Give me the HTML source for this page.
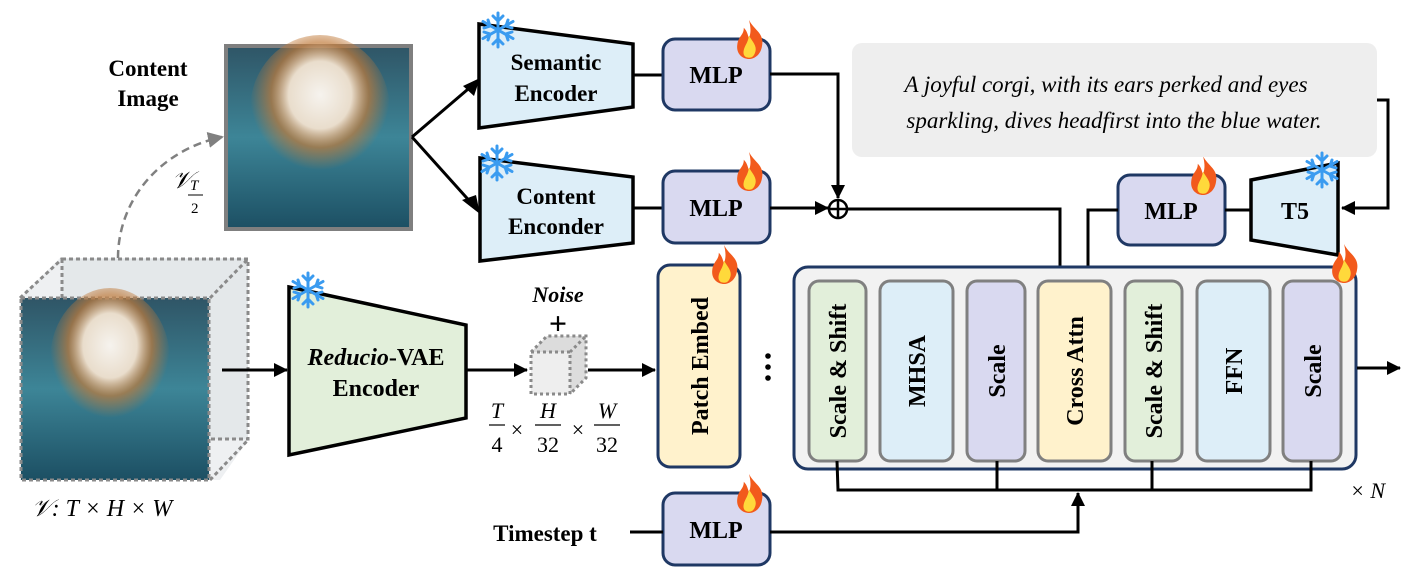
<!DOCTYPE html>
<html><head><meta charset="utf-8"><style>
html,body{margin:0;padding:0;background:#fff}
svg{display:block}
text{font-family:"Liberation Serif",serif;font-weight:bold;fill:#000}
.n{font-weight:normal}
</style></head><body>
<svg width="1412" height="575" viewBox="0 0 1412 575" xmlns="http://www.w3.org/2000/svg">
<defs>
<marker id="ah" markerWidth="14" markerHeight="14" refX="13" refY="7" orient="auto" markerUnits="userSpaceOnUse"><path d="M0,0 L14,7 L0,14 z" fill="#000"/></marker>
<marker id="ahg" markerWidth="16" markerHeight="16" refX="14" refY="8" orient="auto" markerUnits="userSpaceOnUse"><path d="M0,0 L16,8 L0,16 z" fill="#808080"/></marker>
<linearGradient id="water" x1="0" y1="0" x2="0" y2="1"><stop offset="0" stop-color="#2f5566"/><stop offset="0.5" stop-color="#3d8597"/><stop offset="1" stop-color="#1c4f63"/></linearGradient>
<radialGradient id="dog" cx="0.5" cy="0.4" r="0.5"><stop offset="0" stop-color="#f6f3ee"/><stop offset="0.45" stop-color="#e9ddcc"/><stop offset="0.7" stop-color="#c07a3a" stop-opacity="0.7"/><stop offset="1" stop-color="#c07a3a" stop-opacity="0"/></radialGradient>
<g id="flame"><path d="M10,0 C14,8 22,10 20,20 C19,27 14,30 10,30 C5,30 0,26 1,19 C2,12 6,12 6,6 C9,9 9,12 10,14 C12,9 11,4 10,0z" fill="#f25a1c"/><path d="M10,12 C13,17 16,20 15,24 C14,28 12,29 10,29 C7,29 5,27 6,23 C7,19 9,18 10,12z" fill="#ffd93b"/></g>
<g id="snow" stroke="#3a9bf0" stroke-width="3" fill="none" stroke-linecap="round"><path d="M0,-17 V17 M-15,-8.5 L15,8.5 M-15,8.5 L15,-8.5"/><path d="M-5,-14 L0,-9 L5,-14 M-5,14 L0,9 L5,14 M-14,-2 L-8,-4 L-10,-10 M14,2 L8,4 L10,10 M-14,2 L-8,4 L-10,10 M14,-2 L8,-4 L10,-10"/></g>
</defs>

<!-- Content image -->
<rect x="226" y="46" width="185" height="183" fill="url(#water)" stroke="#7f7f7f" stroke-width="4"/>
<ellipse cx="320" cy="110" rx="70" ry="75" fill="url(#dog)"/>
<text x="148" y="76" font-size="23" text-anchor="middle">Content</text>
<text x="148" y="106" font-size="23" text-anchor="middle">Image</text>
<path d="M118,258 C118,200 160,150 222,137" fill="none" stroke="#808080" stroke-width="2.5" stroke-dasharray="8,5" marker-end="url(#ahg)"/>
<text x="172" y="188" font-size="24" font-style="italic" class="n">𝒱</text>
<text x="190" y="190" font-size="15" font-style="italic" class="n">T</text>
<line x1="188" y1="195" x2="203" y2="195" stroke="#000" stroke-width="1"/>
<text x="191" y="213" font-size="15" class="n">2</text>

<!-- Cube -->
<polygon points="20,298 60,258 248,258 248,440 220,480 20,480" fill="#eef0f2"/>
<rect x="62" y="259" width="186" height="180" fill="#e4e8ea" stroke="#8a8a8a" stroke-width="3" stroke-dasharray="4,3"/>
<line x1="20" y1="298" x2="62" y2="259" stroke="#8a8a8a" stroke-width="3" stroke-dasharray="4,3"/>
<line x1="210" y1="298" x2="248" y2="259" stroke="#8a8a8a" stroke-width="3" stroke-dasharray="4,3"/>
<line x1="210" y1="480" x2="248" y2="440" stroke="#8a8a8a" stroke-width="3" stroke-dasharray="4,3"/>
<rect x="21" y="298" width="188" height="182" fill="url(#water)" stroke="#8a8a8a" stroke-width="3" stroke-dasharray="4,3"/>
<ellipse cx="110" cy="360" rx="60" ry="72" fill="url(#dog)"/>
<text x="102" y="516" font-size="24" font-style="italic" class="n" text-anchor="middle">𝒱: T × H × W</text>

<!-- VAE -->
<line x1="222" y1="370" x2="287" y2="370" stroke="#000" stroke-width="3" marker-end="url(#ah)"/>
<polygon points="289,287 466,325 466,418 289,455" fill="#e2efda" stroke="#000" stroke-width="3.5"/>
<use href="#snow" x="308" y="290"/>
<text x="376" y="365" font-size="24" text-anchor="middle"><tspan font-style="italic">Reducio</tspan>-VAE</text>
<text x="376" y="396" font-size="24" text-anchor="middle">Encoder</text>
<line x1="466" y1="370" x2="527" y2="370" stroke="#000" stroke-width="3" marker-end="url(#ah)"/>
<!-- noise cube -->
<polygon points="531,352 547,336 586,336 586,378 570,394 531,394" fill="#dcdcdc"/>
<rect x="531" y="352" width="39" height="42" fill="#eeeeee" stroke="#8a8a8a" stroke-width="3" stroke-dasharray="3,3"/>
<polyline points="531,352 547,336 586,336 586,378 570,394" fill="none" stroke="#8a8a8a" stroke-width="3" stroke-dasharray="3,3"/>
<line x1="570" y1="352" x2="586" y2="336" stroke="#8a8a8a" stroke-width="3" stroke-dasharray="3,3"/>
<text x="558" y="302" font-size="22" font-style="italic" text-anchor="middle">Noise</text>
<text x="558" y="334" font-size="32" text-anchor="middle">+</text>
<line x1="588" y1="370" x2="655" y2="370" stroke="#000" stroke-width="3" marker-end="url(#ah)"/>
<g font-size="22">
<text x="497" y="418" text-anchor="middle" class="n" font-style="italic">T</text>
<line x1="489" y1="425" x2="505" y2="425" stroke="#000" stroke-width="1.2"/>
<text x="497" y="452" text-anchor="middle" class="n">4</text>
<text x="517" y="437" text-anchor="middle" class="n">×</text>
<text x="548" y="418" text-anchor="middle" class="n" font-style="italic">H</text>
<line x1="535" y1="425" x2="561" y2="425" stroke="#000" stroke-width="1.2"/>
<text x="548" y="452" text-anchor="middle" class="n">32</text>
<text x="578" y="437" text-anchor="middle" class="n">×</text>
<text x="607" y="418" text-anchor="middle" class="n" font-style="italic">W</text>
<line x1="594" y1="425" x2="620" y2="425" stroke="#000" stroke-width="1.2"/>
<text x="607" y="452" text-anchor="middle" class="n">32</text>
</g>

<!-- Patch embed -->
<rect x="658" y="265" width="82" height="202" rx="12" fill="#fff2cc" stroke="#1f3864" stroke-width="3"/>
<text transform="translate(708,366) rotate(-90)" font-size="24" text-anchor="middle">Patch Embed</text>
<use href="#flame" transform="translate(711,245) scale(1.3)"/>
<circle cx="768" cy="356" r="2.8"/><circle cx="768" cy="367" r="2.8"/><circle cx="768" cy="378" r="2.8"/>

<!-- Encoders top -->
<path d="M412,137 L474,84 M412,137 L474,206" fill="none" stroke="#000" stroke-width="3"/>
<path d="M463,86 L480,78 L474,96 z M462,200 L480,214 L476,195 z" fill="#000"/>
<polygon points="479,24 633,44 633,107 479,128" fill="#ddeef8" stroke="#000" stroke-width="3.5"/>
<text x="556" y="70" font-size="23" text-anchor="middle">Semantic</text>
<text x="556" y="101" font-size="23" text-anchor="middle">Encoder</text>
<use href="#snow" x="498" y="30"/>
<polygon points="480,158 633,177 633,243 480,261" fill="#ddeef8" stroke="#000" stroke-width="3.5"/>
<text x="556" y="204" font-size="23" text-anchor="middle">Content</text>
<text x="556" y="234" font-size="23" text-anchor="middle">Enconder</text>
<use href="#snow" x="497" y="163"/>
<line x1="633" y1="75" x2="663" y2="75" stroke="#000" stroke-width="3"/>
<line x1="633" y1="208" x2="663" y2="208" stroke="#000" stroke-width="3"/>

<!-- MLPs -->
<g fill="#d9d9f0" stroke="#1f3864" stroke-width="3">
<rect x="663" y="39" width="107" height="71" rx="12"/>
<rect x="663" y="171" width="107" height="72" rx="12"/>
<rect x="663" y="493" width="107" height="72" rx="12"/>
<rect x="1118" y="175" width="107" height="70" rx="12"/>
</g>
<g font-size="24" text-anchor="middle">
<text x="716" y="83">MLP</text><text x="716" y="216">MLP</text><text x="716" y="538">MLP</text><text x="1171" y="219">MLP</text>
</g>
<use href="#flame" transform="translate(736,20) scale(1.3)"/><use href="#flame" transform="translate(736,152) scale(1.3)"/><use href="#flame" transform="translate(736,474) scale(1.3)"/><use href="#flame" transform="translate(1190,156) scale(1.3)"/>

<!-- sum -->
<polyline points="770,74 838,74 838,198" fill="none" stroke="#000" stroke-width="3" marker-end="url(#ah)"/>
<line x1="770" y1="208" x2="828" y2="208" stroke="#000" stroke-width="3" marker-end="url(#ah)"/>
<circle cx="838" cy="209" r="9" fill="#fff" stroke="#000" stroke-width="2.5"/>
<path d="M829,209 H847 M838,200 V218" stroke="#000" stroke-width="2.5"/>
<polyline points="847,209 1060,209 1060,280" fill="none" stroke="#000" stroke-width="3" marker-end="url(#ah)"/>

<!-- text prompt -->
<rect x="852" y="43" width="525" height="114" rx="10" fill="#eeeeee"/>
<text x="1106" y="92" font-size="23" font-style="italic" class="n" text-anchor="middle">A joyful corgi, with its ears perked and eyes</text>
<text x="1114" y="128" font-size="23" font-style="italic" class="n" text-anchor="middle">sparkling, dives headfirst into the blue water.</text>
<polyline points="1377,100 1388,100 1388,208 1342,208" fill="none" stroke="#000" stroke-width="3" marker-end="url(#ah)"/>
<polygon points="1251,180 1338,163 1338,255 1251,240" fill="#ddeef8" stroke="#000" stroke-width="3.5"/>
<text x="1295" y="219" font-size="24" text-anchor="middle">T5</text>
<use href="#snow" x="1322" y="170"/>
<line x1="1225" y1="210" x2="1251" y2="210" stroke="#000" stroke-width="3"/>
<polyline points="1118,210 1088,210 1088,280" fill="none" stroke="#000" stroke-width="3" marker-end="url(#ah)"/>

<!-- transformer block -->
<rect x="794" y="267" width="562" height="202" rx="14" fill="#f2f2f2" stroke="#1f3864" stroke-width="3"/>
<use href="#flame" transform="translate(1331,244) scale(1.3)"/>
<g stroke="#808080" stroke-width="3">
<rect x="809" y="281" width="57" height="180" rx="10" fill="#e2efda"/>
<rect x="880" y="281" width="73" height="180" rx="10" fill="#ddeef8"/>
<rect x="967" y="281" width="58" height="180" rx="10" fill="#d9d9f0"/>
<rect x="1038" y="281" width="73" height="180" rx="10" fill="#fff2cc"/>
<rect x="1125" y="281" width="57" height="180" rx="10" fill="#e2efda"/>
<rect x="1197" y="281" width="73" height="180" rx="10" fill="#ddeef8"/>
<rect x="1283" y="281" width="58" height="180" rx="10" fill="#d9d9f0"/>
</g>
<g font-size="24" text-anchor="middle">
<text transform="translate(846,371) rotate(-90)">Scale &amp; Shift</text>
<text transform="translate(925,371) rotate(-90)">MHSA</text>
<text transform="translate(1005,371) rotate(-90)">Scale</text>
<text transform="translate(1083,371) rotate(-90)">Cross Attn</text>
<text transform="translate(1162,371) rotate(-90)">Scale &amp; Shift</text>
<text transform="translate(1242,371) rotate(-90)">FFN</text>
<text transform="translate(1321,371) rotate(-90)">Scale</text>
</g>
<line x1="1357" y1="368" x2="1400" y2="368" stroke="#000" stroke-width="3" marker-end="url(#ah)"/>
<text x="1350" y="498" font-size="22" font-style="italic" class="n">× N</text>
<polyline points="837,461 838,490 1311,490 1311,461" fill="none" stroke="#000" stroke-width="3"/>
<line x1="997" y1="461" x2="997" y2="490" stroke="#000" stroke-width="3"/>
<line x1="1152" y1="461" x2="1152" y2="490" stroke="#000" stroke-width="3"/>
<polyline points="770,532 1078,532 1078,493" fill="none" stroke="#000" stroke-width="3" marker-end="url(#ah)"/>
<text x="545" y="541" font-size="23" text-anchor="middle">Timestep t</text>
<line x1="630" y1="532" x2="663" y2="532" stroke="#000" stroke-width="3"/>
</svg>
</body></html>
